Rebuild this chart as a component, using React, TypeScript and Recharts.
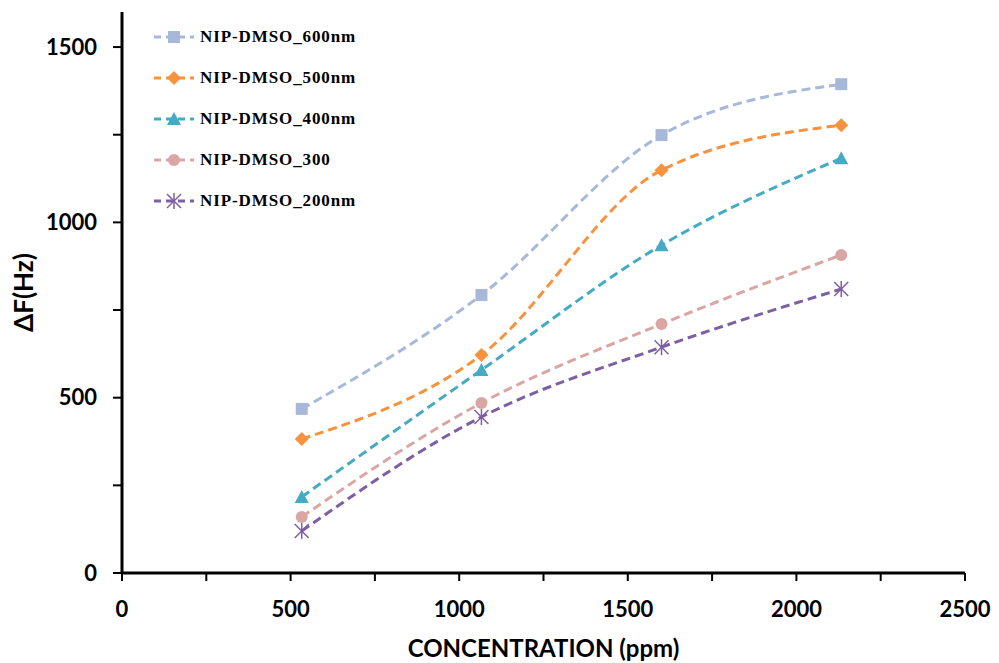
import React from 'react';
import { LineChart, Line, XAxis, YAxis, Legend } from 'recharts';

// concentration (ppm)
const concentration = [533, 1066, 1600, 2133];

// frequency shift (Hz) per film thickness
const dmso600 = [468, 793, 1249, 1394];
const dmso500 = [382, 622, 1149, 1277];
const dmso400 = [217, 579, 935, 1183];
const dmso300 = [160, 485, 710, 907];
const dmso200 = [120, 445, 644, 810];

const xTicks = [0, 250, 500, 750, 1000, 1250, 1500, 1750, 2000, 2250, 2500];
const yTicks = [0, 250, 500, 750, 1000, 1250, 1500];

type MarkerKind = 'square' | 'diamond' | 'triangle' | 'circle' | 'star';

const seriesList: { key: string; name: string; color: string; marker: MarkerKind; values: number[] }[] = [
  { key: 's600', name: 'NIP-DMSO_600nm', color: '#A7B8D9', marker: 'square', values: dmso600 },
  { key: 's500', name: 'NIP-DMSO_500nm', color: '#F7923F', marker: 'diamond', values: dmso500 },
  { key: 's400', name: 'NIP-DMSO_400nm', color: '#45AAC4', marker: 'triangle', values: dmso400 },
  { key: 's300', name: 'NIP-DMSO_300', color: '#D9A6A4', marker: 'circle', values: dmso300 },
  { key: 's200', name: 'NIP-DMSO_200nm', color: '#7D5FA3', marker: 'star', values: dmso200 },
];

const chartData = concentration.map((c, i) => {
  const row: Record<string, number> = { x: c };
  seriesList.forEach(s => { row[s.key] = s.values[i]; });
  return row;
});

const Marker = ({ cx, cy, kind, color }: { cx: number; cy: number; kind: MarkerKind; color: string }) => {
  const r = 6;
  if (kind === 'square') return <rect x={cx - r} y={cy - r} width={r * 2} height={r * 2} fill={color} />;
  if (kind === 'diamond')
    return <polygon points={`${cx},${cy - r - 1} ${cx + r + 1},${cy} ${cx},${cy + r + 1} ${cx - r - 1},${cy}`} fill={color} />;
  if (kind === 'triangle')
    return <polygon points={`${cx},${cy - r - 1} ${cx + r + 1},${cy + r} ${cx - r - 1},${cy + r}`} fill={color} />;
  if (kind === 'circle') return <circle cx={cx} cy={cy} r={r} fill={color} />;
  return (
    <g stroke={color} strokeWidth={1.5}>
      <line x1={cx} y1={cy - 8} x2={cx} y2={cy + 8} />
      <line x1={cx - 7} y1={cy - 7} x2={cx + 7} y2={cy + 7} />
      <line x1={cx - 7} y1={cy + 7} x2={cx + 7} y2={cy - 7} />
    </g>
  );
};

const LegendBox = () => (
  <div>
    {seriesList.map(s => (
      <div key={s.key} style={{ display: 'flex', alignItems: 'center', height: 41 }}>
        <svg width={46} height={20}>
          <line x1={2} y1={10} x2={42} y2={10} stroke={s.color} strokeWidth={3} strokeDasharray="7 5" />
          <Marker cx={22} cy={10} kind={s.marker} color={s.color} />
        </svg>
        <span style={{ fontFamily: '"Liberation Serif", serif', fontWeight: 'bold', fontSize: 17, letterSpacing: 0.9, color: '#000', marginLeft: 2 }}>
          {s.name}
        </span>
      </div>
    ))}
  </div>
);

const axisFont = { fontFamily: 'Lato, sans-serif', fontWeight: 'bold', fontSize: 22, fill: '#000' };

export default function App() {
  return (
    <div style={{ position: 'absolute', left: 0, top: 0, background: '#fff' }}>
      <LineChart width={999} height={663} data={chartData} margin={{ top: 12, right: 34, left: 0, bottom: 0 }}>
        <XAxis
          dataKey="x"
          type="number"
          domain={[0, 2500]}
          ticks={xTicks}
          interval={0}
          tickFormatter={v => (v % 500 === 0 ? String(v) : '')}
          axisLine={{ stroke: '#000', strokeWidth: 3 }}
          tickLine={{ stroke: '#000', strokeWidth: 2 }}
          tickSize={8}
          tick={axisFont}
          tickMargin={20}
          height={90}
          label={{ value: 'CONCENTRATION (ppm)', position: 'insideBottom', offset: 6, style: { fontFamily: 'Lato, sans-serif', fontWeight: 'bold', fontSize: 24, fill: '#000' } }}
        />
        <YAxis
          type="number"
          domain={[0, 1600]}
          ticks={yTicks}
          interval={0}
          tickFormatter={v => (v % 500 === 0 ? String(v) : '')}
          axisLine={{ stroke: '#000', strokeWidth: 3 }}
          tickLine={{ stroke: '#000', strokeWidth: 2 }}
          tickSize={9}
          tick={axisFont}
          tickMargin={16}
          width={122}
          label={{ value: 'ΔF(Hz)', angle: -90, position: 'insideLeft', offset: 24, style: { textAnchor: 'middle', fontFamily: 'Lato, sans-serif', fontWeight: 'bold', fontSize: 26, fill: '#000' } }}
        />
        <Legend
          layout="vertical"
          verticalAlign="middle"
          align="center"
          content={() => <LegendBox />}
          wrapperStyle={{ top: 16, left: 152, width: 280 }}
        />
        {seriesList.map(s => (
          <Line
            key={s.key}
            type="monotone"
            dataKey={s.key}
            name={s.name}
            stroke={s.color}
            strokeWidth={3}
            strokeDasharray="9 5"
            isAnimationActive={false}
            dot={(p: any) => <Marker key={`${s.key}-${p.index}`} cx={p.cx} cy={p.cy} kind={s.marker} color={s.color} />}
            activeDot={false}
          />
        ))}
      </LineChart>
    </div>
  );
}
